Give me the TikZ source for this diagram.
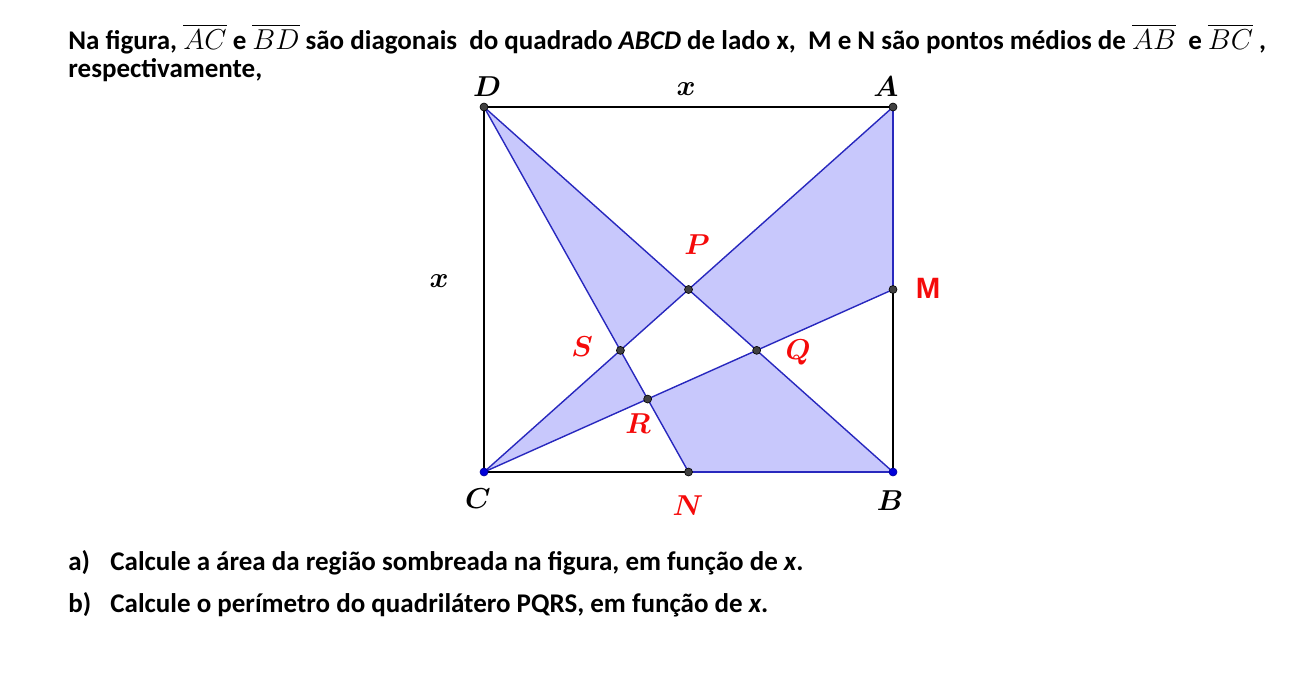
\documentclass[tikz,border=0pt]{standalone}
\usepackage{amsmath}
\usepackage{fontspec}
\setmainfont{Carlito}
\newfontfamily\arialfont{Liberation Sans}
\usetikzlibrary{calc,positioning}

\definecolor{geoblue}{RGB}{40,40,190}
\definecolor{geofill}{RGB}{200,200,252}
\definecolor{geodot}{RGB}{64,64,64}
\definecolor{geored}{RGB}{245,10,10}

\begin{document}
\begin{tikzpicture}[x=0.5pt, y=-0.5pt,
    sqline/.style={line width=1.4pt, black},
    blueline/.style={line width=0.7pt, geoblue},
    bluethick/.style={line width=1.4pt, geoblue},
    shaded/.style={fill=geofill},
    dot/.style={circle, fill=geodot, draw=black, line width=0.3pt,
                inner sep=0pt, minimum size=4pt},
    bluedot/.style={dot, fill=blue!85!black, draw=blue!60!black},
    vlabel/.style={font=\Large\boldmath, inner sep=0pt},
    rlabel/.style={vlabel, text=geored},
    txt/.style={font=\fontsize{13.5}{15}\selectfont\bfseries,
                anchor=base west, inner sep=0pt},
  ]

  \fill[white] (0,0) rectangle (1305,697);
  \useasboundingbox (0,0) rectangle (1305,697);

  % statement
  \node[txt] (intro1) at (68,49)
      {Na figura, $\overline{AC}$ e $\overline{BD}$ são diagonais\ \ do quadrado \textit{ABCD} de lado x,\ \ M e N são pontos médios de $\overline{AB}$\ \ e $\overline{BC}$ ,};
  \node[txt] (intro2) at (68,77) {respectivamente,};

  % square and points
  \coordinate (D) at (484,107);
  \coordinate (A) at (893,107);
  \coordinate (B) at (893,472);
  \coordinate (C) at (484,472);
  \coordinate (M) at ($(A)!0.5!(B)$);
  \coordinate (N) at ($(C)!0.5!(B)$);
  \coordinate (P) at (intersection of A--C and D--B);
  \coordinate (S) at (intersection of A--C and D--N);
  \coordinate (R) at (intersection of C--M and D--N);
  \coordinate (Q) at (intersection of C--M and D--B);

  % shaded region
  \fill[shaded] (D) -- (P) -- (S) -- cycle;
  \fill[shaded] (A) -- (M) -- (Q) -- (P) -- cycle;
  \fill[shaded] (C) -- (S) -- (R) -- cycle;
  \fill[shaded] (N) -- (B) -- (Q) -- (R) -- cycle;

  \draw[blueline] (D) -- (N);
  \draw[blueline] (C) -- (M);
  \draw[blueline] (A) -- (C);
  \draw[blueline] (D) -- (B);

  \draw[sqline] (M) -- (B);
  \draw[sqline] (N) -- (C) -- (D) -- (A);
  \draw[bluethick] (A) -- (M);
  \draw[bluethick] (N) -- (B);

  \foreach \p in {D,A,M,N,P,Q,R,S}
    \node[dot] (dot\p) at (\p) {};
  \node[bluedot] (dotC) at (C) {};
  \node[bluedot] (dotB) at (B) {};

  % labels
  \node[vlabel] (lD) at (487,87) {$D$};
  \node[vlabel] (lA) at (886,87) {$A$};
  \node[vlabel] (ltop) at (686,89) {$x$};
  \node[vlabel] (lleft) at (439,281) {$x$};
  \node[vlabel] (lC) at (478,499) {$C$};
  \node[vlabel] (lB) at (890,501) {$B$};
  \node[rlabel] (lN) at (688,506) {$N$};
  \node[rlabel] (lP) at (697,245) {$P$};
  \node[rlabel] (lS) at (582,347) {$S$};
  \node[rlabel] (lQ) at (798,352) {$Q$};
  \node[rlabel] (lR) at (638,424) {$R$};
  \node[inner sep=0pt, text=geored, font=\arialfont\fontsize{14.7}{15}\selectfont\bfseries]
      (lM) at (928,288) {M};

  % questions
  \node[txt] (qa) at (68,570) {a)};
  \node[txt] (qatext) at (110,570) {Calcule a área da região sombreada na figura, em função de \textit{x}.};
  \node[txt] (qb) at (68,612) {b)};
  \node[txt] (qbtext) at (110,612) {Calcule o perímetro do quadrilátero PQRS, em função de \textit{x}.};

\end{tikzpicture}
\end{document}
